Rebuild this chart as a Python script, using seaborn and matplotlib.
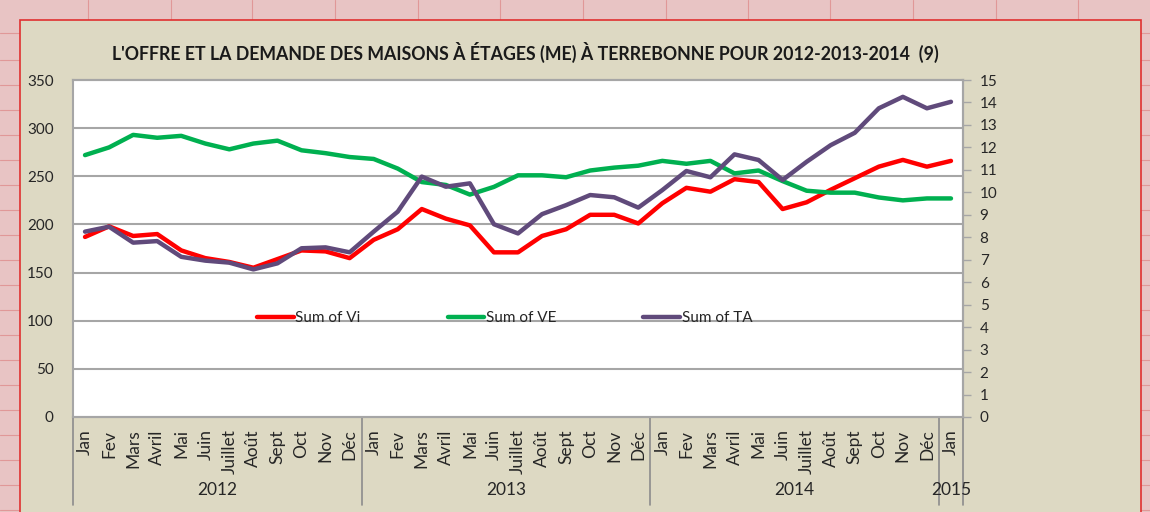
import matplotlib
matplotlib.use("Agg")
import matplotlib.pyplot as plt
import matplotlib.transforms as mtransforms
import seaborn as sns
import pandas as pd

months = ["Jan", "Fev", "Mars", "Avril", "Mai", "Juin", "Juillet", "Août",
          "Sept", "Oct", "Nov", "Déc"]
years = ["2012", "2013", "2014", "2015"]
month_labels = months * 3 + ["Jan"]

vi = [187, 198, 188, 190, 173, 165, 161, 155, 164, 173, 172, 165,
      184, 195, 216, 206, 199, 171, 171, 188, 195, 210, 210, 201,
      222, 238, 234, 247, 244, 216, 223, 236, 248, 260, 267, 260, 266]
ve = [272, 280, 293, 290, 292, 284, 278, 284, 287, 277, 274, 270,
      268, 258, 244, 241, 231, 239, 251, 251, 249, 256, 259, 261,
      266, 263, 266, 253, 256, 245, 235, 233, 233, 228, 225, 227, 227]
ta = [8.25, 8.47, 7.76, 7.83, 7.13, 6.96, 6.87, 6.57, 6.84, 7.51, 7.55, 7.33,
      8.25, 9.14, 10.7, 10.25, 10.4, 8.58, 8.17, 9.03, 9.43, 9.88, 9.78, 9.32,
      10.1, 10.95, 10.67, 11.69, 11.44, 10.55, 11.36, 12.1, 12.65, 13.74, 14.25, 13.74, 14.03]

df = pd.DataFrame({"idx": range(len(vi)), "Vi": vi, "VE": ve, "TA": ta})

sns.set_theme(style="white")
plt.rcParams['font.family'] = ['Lato', 'DejaVu Sans']

beige = "#DDD9C3"
fig = plt.figure(figsize=(11.5, 5.12), dpi=100, facecolor="#E8C4C4")
# outer spreadsheet cells and chart area (drawn behind the axes)
for xp in [88, 171, 252, 335, 418, 500, 583, 666, 748, 830, 913, 996, 1078]:
    fig.add_artist(plt.Line2D([xp / 1150, xp / 1150], [1, 1 - 20 / 512], color="#E09898", lw=0.8, zorder=-20))
for yp in [33, 60, 85, 110, 135, 160, 185, 210, 235, 260, 285, 310, 335, 360, 385, 410, 435, 460, 485, 510]:
    fig.add_artist(plt.Line2D([0, 20 / 1150], [1 - yp / 512, 1 - yp / 512], color="#E09898", lw=0.8, zorder=-20))
    fig.add_artist(plt.Line2D([1141 / 1150, 1], [1 - yp / 512, 1 - yp / 512], color="#E09898", lw=0.8, zorder=-20))
fig.add_artist(plt.Rectangle((20 / 1150, -0.01), 1121 / 1150, 1 - 20 / 512 + 0.01,
                             facecolor=beige, edgecolor="#E03030", lw=1.2, zorder=-10))

ax = fig.add_axes([73 / 1150, 1 - 417 / 512, 890 / 1150, 337 / 512])
ax.set_facecolor("white")
ax2 = ax.twinx()

sns.lineplot(data=df, x="idx", y="Vi", ax=ax, color="#FF0000", lw=3.2, label="Sum of Vi", legend=False)
sns.lineplot(data=df, x="idx", y="VE", ax=ax, color="#00B050", lw=3.2, label="Sum of VE", legend=False)
sns.lineplot(data=df, x="idx", y="TA", ax=ax2, color="#604A7B", lw=3.2, label="Sum of TA", legend=False)

ax.set_xlim(-0.5, len(vi) - 0.5)
ax.set_ylim(0, 350)
ax2.set_ylim(0, 15)
ax.set_yticks(range(0, 351, 50))
ax2.set_yticks(range(0, 16))
for y in range(50, 301, 50):
    ax.axhline(y, color="#A6A6A6", lw=1.5, zorder=0)

ax.set_xticks(range(len(vi)))
ax.set_xticklabels(month_labels, rotation=90, fontsize=12.5, color="#262626")
ax.tick_params(axis="x", length=0, pad=9)
ax.tick_params(axis="y", length=0, labelsize=11, labelcolor="#262626", pad=14)
ax2.tick_params(axis="y", length=6, width=1, color="#A6A6A6", direction="out",
                labelsize=11, labelcolor="#262626", pad=6)
ax.set_xlabel("")
ax.set_ylabel("")
ax2.set_ylabel("")

for a in (ax, ax2):
    for s in a.spines.values():
        s.set_color("#A6A6A6")
        s.set_linewidth(1.5)
ax2.spines["left"].set_visible(False)

# year group separators and labels
trans = mtransforms.blended_transform_factory(ax.transData, ax.transAxes)
for xb in [-0.5, 11.5, 23.5, 35.5, 36.5]:
    ax.plot([xb, xb], [0, -0.262], transform=trans, color="#8C8C8C", lw=1.2, clip_on=False)
for xc, yr in zip([5.5, 17.5, 29.5, 36], years):
    ax.text(xc, -0.218, yr, transform=trans, ha="center", va="center", fontsize=12.5, color="#262626")

fig.text(525 / 1150, 1 - 52 / 512,
         "L'OFFRE ET LA DEMANDE DES MAISONS À ÉTAGES (ME) À TERREBONNE POUR 2012-2013-2014  (9)",
         ha="center", va="center", fontsize=12.8, fontweight="bold", color="#1A1A1A")

h1, l1 = ax.get_legend_handles_labels()
h2, l2 = ax2.get_legend_handles_labels()
leg = ax2.legend(h1 + h2, l1 + l2, loc="center", bbox_to_anchor=(0.485, 0.294), ncol=3,
                 frameon=False, fontsize=11, handlelength=2.4, handletextpad=0.1,
                 columnspacing=5.7)

fig.savefig("out.png", dpi=100, facecolor=fig.get_facecolor())
